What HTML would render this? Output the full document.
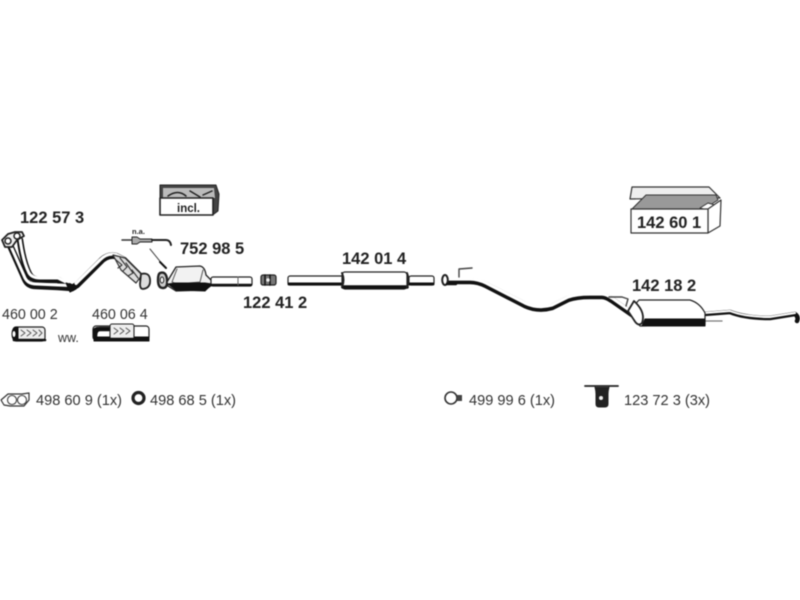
<!DOCTYPE html>
<html><head><meta charset="utf-8"><style>
html,body{margin:0;padding:0;background:#fff;width:800px;height:600px;overflow:hidden}
svg{display:block;filter:blur(.6px)}
text{font-family:"Liberation Sans",sans-serif;fill:#222}
.b{font-weight:bold;font-size:16.500px}
.r{font-size:14.600px;fill:#333}
</style></head><body>
<svg width="800" height="600" viewBox="0 0 800 600" fill="none" stroke-linecap="round" stroke-linejoin="round">
<!-- front pipe -->
<g stroke="#111" stroke-width="6.500">
<path d="M9 243 L25 279 Q28 286 36 286 L58 287 L72 288"/>
<path d="M20 240 Q23 262 29 274 Q32 280 40 280 L58 280 L72 288"/>
<path d="M72 288 L77 285 L100 262 Q107 254 116 256 L124 260 L140 276 Q145 281 143 285"/>
</g>
<g stroke="#fff" stroke-width="3">
<path d="M9 242 L25 278 Q28 284 36 284 L58 285 L70 285.500"/>
<path d="M20 239 Q23 261 29 273 Q32 278 40 278 L58 278 L68 283"/>
<path d="M76 283.500 L100 260 Q107 252.500 116 254.500 L124 258.500 L139 274"/>
</g>
<path d="M113 255 L125 258 L142 275 L136 283 L121 270 Z" fill="#ddd" stroke="#333" stroke-width="1.200"/>
<path d="M115 259 L122 265 L118 268 M120 258 L127 267 L123 271 M126 263 L133 273 L128 276 M132 270 L138 278" stroke="#333" stroke-width="1.100"/>
<path d="M66 283 L74 285 L76 289 L70 292 Z" fill="#111" stroke="#111"/>
<path d="M2 240 L8 234 L15 232 L22 232 L24 236 L17 240 L12 247 L5 247 Z" fill="#eee" stroke="#222" stroke-width="1.800"/>
<circle cx="8" cy="241" r="3" fill="#fff" stroke="#222" stroke-width="1.500"/>
<circle cx="17" cy="236" r="3" fill="#fff" stroke="#222" stroke-width="1.500"/>
<path d="M141 274 Q149 272 150 279 Q151 288 143 289 Q140 289 140 284 Z" fill="#ddd" stroke="#222" stroke-width="1.800"/>
<text class="b" x="20" y="223">122 57 3</text>
<!-- incl box -->
<path d="M160 185 L216 185 L219 194 L218 211 L214 214 L160 214 Z" fill="#444" stroke="#222"/>
<path d="M163 188 L214 188 L215 198 L163 199 Z" fill="#bbb"/>
<path d="M168 196 Q178 189 186 196 M190 191 L200 197 M203 195 L212 191" stroke="#222" stroke-width="1.500"/>
<rect x="160" y="198" width="53" height="17" fill="#fff" stroke="#222" stroke-width="1.600"/>
<text x="177" y="212" style="font-size:11.500px;font-weight:bold">incl.</text>
<!-- sensor -->
<text x="132" y="234" style="font-size:7.500px;font-weight:bold">n.a.</text>
<path d="M122 240 L132 240" stroke="#333" stroke-width="1.500"/>
<path d="M132 237 L137 237 L140 239 L152 239 L152 242 L140 242 L137 244 L132 244Z" fill="#aaa" stroke="#222"/>
<path d="M152 240 L166 240 Q170 240 171 245" stroke="#222" stroke-width="2"/>
<path d="M150 249 L163 265" stroke="#444" stroke-width="1"/>
<path d="M160 262 L166 268" stroke="#111" stroke-width="2"/>
<text class="b" x="180" y="254">752 98 5</text>
<!-- catalyst -->
<path d="M160 273 Q166 271 167 279 Q168 288 163 288 Q158 288 158 280 Q158 274 160 273Z" fill="#ccc" stroke="#222" stroke-width="2.400"/>
<ellipse cx="162" cy="280" rx="1.800" ry="3" fill="#fff" stroke="#222"/>
<path d="M167 282 L176 267 L200 266 Q205 267 206 275 L212 281 L212 285 L205 290 L176 291 L168 286 Z" fill="#f2f2f2" stroke="#222" stroke-width="1.300"/>
<path d="M177 269 L172 282 L177 284 L200 282 L203 270" stroke="#555" stroke-width="1"/>
<path d="M168 284 L176 290 L205 291 L212 284 L205 283 L175 283 Z" fill="#111" stroke="#111"/>
<rect x="211" y="277" width="41" height="9" rx="2" fill="#fff" stroke="#222" stroke-width="1.200"/>
<path d="M211 285 L251 285" stroke="#111" stroke-width="2.400"/>
<path d="M238 277 L238 285" stroke="#666"/>
<!-- clamp -->
<rect x="261" y="275" width="15" height="10" rx="2" fill="#777" stroke="#222" stroke-width="1.200"/>
<path d="M265 275 V285 M270 275 V285" stroke="#111" stroke-width="1.500"/>
<circle cx="268" cy="280" r="1.800" fill="#eee"/>
<text class="b" x="243" y="308">122 41 2</text>
<!-- middle pipe -->
<rect x="288" y="276" width="56" height="9" rx="2" fill="#fff" stroke="#222" stroke-width="1.200"/>
<path d="M289 284 H344" stroke="#111" stroke-width="3"/>
<rect x="409" y="276" width="25" height="9" rx="2" fill="#fff" stroke="#222" stroke-width="1.200"/>
<path d="M409 284 H433" stroke="#111" stroke-width="3"/>
<rect x="342" y="272" width="65" height="17" rx="3" fill="#fff" stroke="#222" stroke-width="1.200"/>
<path d="M343 287 H407" stroke="#111" stroke-width="3.600"/>
<path d="M342 273 Q345 280 342 287 M407 273 Q410 280 407 287" stroke="#222" stroke-width="2"/>
<text class="b" x="342" y="264">142 01 4</text>
<!-- rear middle pipe -->
<path d="M446 281 L470 281 Q478 281 486 285 L525 305 Q538 311 552 307 L568 299 Q576 296 590 296 L602 296 Q606 296 612 300 L632 314" stroke="#111" stroke-width="6.500"/>
<path d="M446 279 L470 279 Q478 279 486 283 L525 303 Q538 309 552 305 L568 297 Q576 294 590 294 L602 294 Q606 294 612 298 L632 312" stroke="#fff" stroke-width="3.200"/>
<path d="M459 277 L459 269 L472 268" stroke="#444" stroke-width="1.400"/>
<ellipse cx="445" cy="280" rx="2.800" ry="5" fill="#fff" stroke="#222" stroke-width="2"/>
<path d="M447 284 H456" stroke="#111" stroke-width="2.400"/>
<path d="M609 297 L622 297 L628 299 L626 306" stroke="#444" stroke-width="1.400"/>
<!-- rear muffler -->
<path d="M704 314 L730 312 Q745 318 770 318 L795 314 Q799 317 797 321" stroke="#111" stroke-width="4.500"/>
<path d="M704 313 L730 311 Q745 317 770 317 L795 313" stroke="#fff" stroke-width="2"/>
<path d="M704 321 H722" stroke="#777" stroke-width="1.300"/>
<path d="M639 300 L690 300 Q700 303 705 313 L705 325 L640 326 Q634 318 630 310 Z" fill="#fff" stroke="#222" stroke-width="1.200"/>
<path d="M645 319 H705 V326 H642 Z" fill="#111" stroke="#111"/>
<path d="M634 301 Q646 312 642 323 Q638 327 634 320 L628 311 Z" fill="#fff" stroke="#222" stroke-width="1.800"/>
<text class="b" x="632" y="291">142 18 2</text>
<!-- kit box -->
<path d="M632 187 L709 187 L720 198 L707 198 L630 199 Z" fill="#eee" stroke="#333" stroke-width="1.200"/>
<path d="M640 201 L646 195 L716 195 L718 200 L704 209 L632 209 Z" fill="#999" stroke="#333"/>
<path d="M700 208 L708 203 L715 205 L707 210Z" fill="#fff" stroke="#333"/>
<path d="M708 209 L721 200 L720 226 L708 233 Z" fill="#fff" stroke="#333" stroke-width="1.200"/>
<rect x="631" y="209" width="77" height="24" fill="#fff" stroke="#333" stroke-width="1.200"/>
<text class="b" x="637" y="228" style="font-size:16.500px">142 60 1</text>
<!-- flex parts -->
<text class="r" x="2" y="319" style="font-size:14.300px">460 00 2</text>
<text class="r" x="92" y="319" style="font-size:14.300px">460 06 4</text>
<text class="r" x="58" y="342" style="font-size:12.500px">ww.</text>
<rect x="13" y="327" width="32" height="14" rx="3" fill="#eee" stroke="#222" stroke-width="1.200"/>
<path d="M14 340 H45" stroke="#111" stroke-width="2.600"/>
<path d="M21 330 l4 3 l-4 3 M27 330 l4 3 l-4 3 M33 330 l4 3 l-4 3 M39 330 l3 3 l-3 3" stroke="#555"/>
<path d="M18 327 Q12 327 12 334 Q12 341 18 341 Z" fill="#111" stroke="#111"/>
<ellipse cx="14" cy="334" rx="1.500" ry="3" fill="#fff"/>
<rect x="93" y="326" width="56" height="14" rx="3" fill="#fff" stroke="#222" stroke-width="1.200"/>
<path d="M94 337 H149 V341 H94Z" fill="#111" stroke="#111"/>
<path d="M93 331 Q93 327 100 327 H110 V331 H100 Q97 331 97 336 L97 339 H94 Z" fill="#111" stroke="#111" stroke-width=".6"/>
<rect x="110" y="324" width="24" height="15" rx="2" fill="#eee" stroke="#222" stroke-width="1.100"/>
<path d="M114 328 l4 3 l-4 3 M120 328 l4 3 l-4 3 M126 328 l4 3 l-4 3" stroke="#555"/>
<path d="M111 339 H134" stroke="#111" stroke-width="2.400"/>
<!-- gaskets -->
<path d="M1 400 L8 394 L22 394 L29 393 L29 400 L24 406 L10 406 L4 405 Z" fill="#fff" stroke="#333" stroke-width="1.200"/>
<circle cx="12" cy="400" r="4.500" stroke="#444" stroke-width="1.100"/>
<circle cx="22" cy="400" r="4.500" stroke="#444" stroke-width="1.100"/>
<text class="r" x="36" y="405">498 60 9 (1x)</text>
<circle cx="138.500" cy="398" r="5.500" stroke="#222" stroke-width="3.200"/>
<text class="r" x="150" y="405">498 68 5 (1x)</text>
<circle cx="451" cy="398" r="6" stroke="#333" stroke-width="1.600"/>
<rect x="457" y="395" width="5" height="6" fill="#444" stroke="none"/>
<text class="r" x="469" y="405">499 99 6 (1x)</text>
<path d="M585 386 H618" stroke="#222" stroke-width="1.800"/>
<path d="M595 387 Q596 391 596 394 V404 Q596 407 599 407 H605 Q608 407 608 404 V394 Q608 391 609 387" fill="#222" stroke="#222"/>
<circle cx="601" cy="398" r="2" fill="#eee"/>
<text class="r" x="624" y="405">123 72 3 (3x)</text>
</svg>
</body></html>
